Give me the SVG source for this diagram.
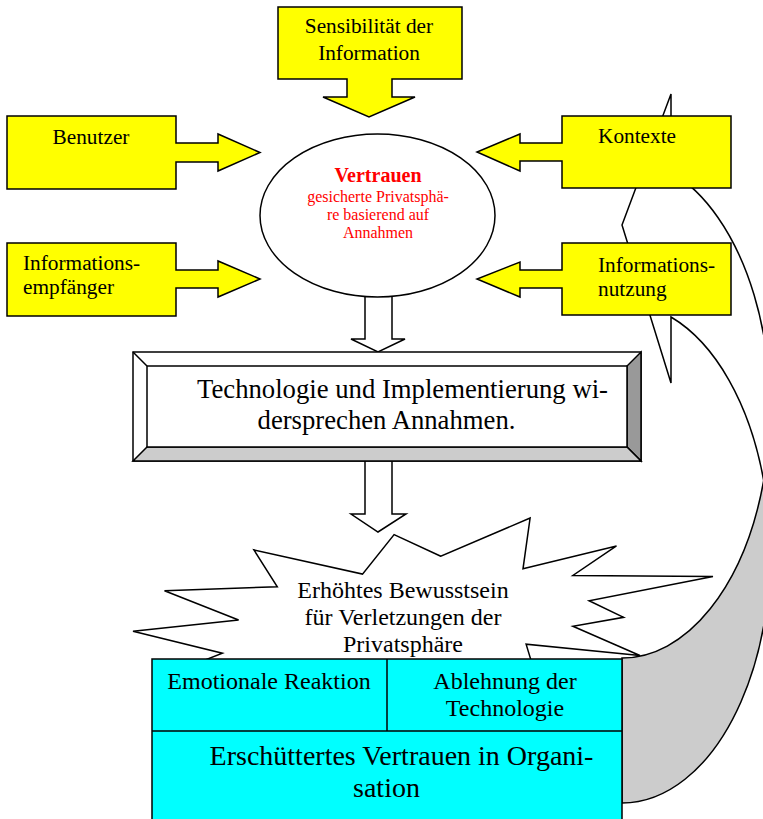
<svg xmlns="http://www.w3.org/2000/svg" width="763" height="819" viewBox="0 0 763 819">
  <style>
    .ln{stroke:#000;stroke-width:1.5;stroke-linejoin:miter}
    .yel{fill:#ffff00}
    .wht{fill:#ffffff}
    .cy{fill:#00ffff}
    .dk{fill:#999999}
    .lt{fill:#cccccc}
    text{font-family:"Liberation Serif","Times New Roman",serif;fill:#000}
    .c{text-anchor:middle}
    .f21{font-size:21.3px}
    .f24{font-size:24px}
    .f26{font-size:26.7px}
    .f28{font-size:28px}
    .red{fill:#ff0000}
    .f16{font-size:16px}
    .b20{font-size:20px;font-weight:bold}
  </style>
  <rect width="763" height="819" fill="#ffffff"/>

  <!-- connectors: block arrows and the curved feedback arrow -->
  <g id="connectors">
    <!-- curved feedback arrow: back face (shaded) near the tail -->
    <path class="ln lt" d="M763.7,480.5 A148,250 0 0 1 622,658 L622,803 A148,250 0 0 0 763.7,480.5 Z"/>
    <!-- curved feedback arrow: front face with head pointing back to the top -->
    <path class="ln wht" d="M671,172 A148,250 0 0 1 763.7,480.5 A148,250 0 0 0 671,317 L671,383 L622,225 L671,94 Z"/>
    <!-- ellipse to technology box -->
    <path class="ln wht" d="M365,290 L392,290 L392,339 L405,339 L378,352 L351,339 L365,339 Z"/>
    <!-- technology box to awareness burst -->
    <path class="ln wht" d="M365,458 L392,458 L392,514 L406,514 L378,532 L351,514 L365,514 Z"/>
  </g>

  <g id="callout-sensibilitaet">
    <path class="ln yel" d="M278,7 L462,7 L462,79 L392,79 L392,97 L415,97 L369,117 L323,97 L347,97 L347,79 L278,79 Z"/>
    <text class="f21 c" x="369" y="33">Sensibilität der</text>
    <text class="f21 c" x="369" y="60">Information</text>
  </g>

  <g id="callout-benutzer">
    <path class="ln yel" d="M7,116 L176,116 L176,143 L218,143 L218,134 L260,152.5 L218,171 L218,162 L176,162 L176,189 L7,189 Z"/>
    <text class="f21 c" x="91" y="144">Benutzer</text>
  </g>

  <g id="callout-empfaenger">
    <path class="ln yel" d="M7,243 L176,243 L176,270 L218,270 L218,261 L260,279 L218,297 L218,288 L176,288 L176,316 L7,316 Z"/>
    <text class="f21" x="23" y="270">Informations-</text>
    <text class="f21" x="23" y="294">empfänger</text>
  </g>

  <g id="callout-kontexte">
    <path class="ln yel" d="M731,116 L562,116 L562,143 L520,143 L520,134 L477,152 L520,171 L520,161 L562,161 L562,188 L731,188 Z"/>
    <text class="f21" x="598" y="143">Kontexte</text>
  </g>

  <g id="callout-nutzung">
    <path class="ln yel" d="M731,243 L562,243 L562,270 L520,270 L520,262 L477,279 L520,297 L520,288 L562,288 L562,315 L731,315 Z"/>
    <text class="f21" x="598" y="272">Informations-</text>
    <text class="f21" x="598" y="296">nutzung</text>
  </g>

  <g id="node-vertrauen">
    <ellipse class="ln wht" cx="377.5" cy="215.5" rx="117.5" ry="81.5"/>
    <text class="b20 c red" x="378" y="182">Vertrauen</text>
    <text class="f16 c red" x="378" y="202">gesicherte Privatsphä-</text>
    <text class="f16 c red" x="378" y="220">re basierend auf</text>
    <text class="f16 c red" x="378" y="238">Annahmen</text>
  </g>

  <g id="node-technologie">
    <rect class="ln wht" x="133" y="352" width="508" height="109"/>
    <polygon class="ln dk" points="641,352 641,461 627,447 627,366"/>
    <polygon class="ln lt" points="133,461 641,461 627,447 147,447"/>
    <line class="ln" x1="133" y1="352" x2="147" y2="366"/>
    <rect class="ln wht" x="147" y="366" width="480" height="81"/>
    <text class="f26 c" x="402.5" y="397.5">Technologie und Implementierung wi-</text>
    <text class="f26 c" x="386.5" y="429">dersprechen Annahmen.</text>
  </g>

  <g id="node-bewusstsein">
    <polygon class="ln wht" points="440.8,556.2 394.1,534.6 362.5,574.1 253.9,549.9 277.3,586.8 164.5,590.7 238.6,620 133,631.3 222.4,653.2 167.5,674.8 262,678.4 265.1,708 335.1,677.4 366.6,691.4 398.1,670.8 444.9,683.8 460,662 534.2,670.8 526.1,644.2 639.9,655.5 572.9,626.3 623.6,617.3 589.1,600.7 713,576.5 572.9,575.5 616.5,545.9 523,568.8 530.1,518"/>
    <text class="f24 c" x="403" y="598">Erhöhtes Bewusstsein</text>
    <text class="f24 c" x="403" y="625">für Verletzungen der</text>
    <text class="f24 c" x="403" y="652">Privatsphäre</text>
  </g>

  <g id="node-folgen">
    <rect class="ln cy" x="152" y="659" width="470" height="175"/>
    <line class="ln" x1="152" y1="731" x2="622" y2="731"/>
    <line class="ln" x1="387" y1="659" x2="387" y2="731"/>
    <text class="f24 c" x="269" y="689">Emotionale Reaktion</text>
    <text class="f24 c" x="505" y="689">Ablehnung der</text>
    <text class="f24 c" x="505" y="716">Technologie</text>
    <text class="f28 c" x="401.5" y="765">Erschüttertes Vertrauen in Organi-</text>
    <text class="f28 c" x="386.5" y="797">sation</text>
  </g>
</svg>
